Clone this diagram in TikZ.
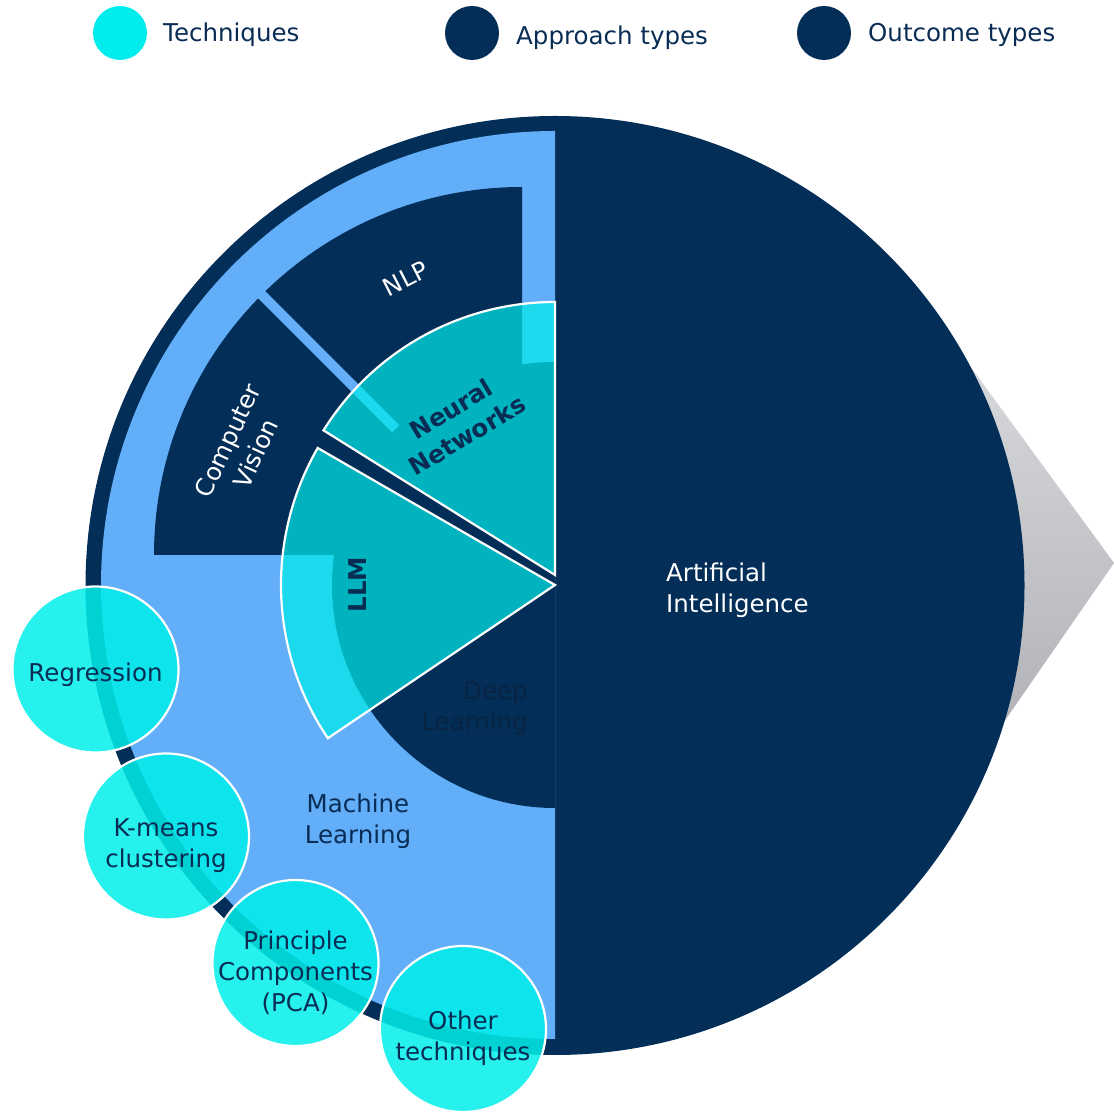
\documentclass[tikz,border=0pt]{standalone}
\usepackage{fontspec}
\setmainfont{DejaVu Sans}
\usetikzlibrary{calc}
\definecolor{navy}{RGB}{3,46,87}
\definecolor{navytext}{RGB}{8,44,84}
\definecolor{deeptext}{RGB}{9,36,66}
\definecolor{lblue}{RGB}{98,174,248}
\definecolor{cyanS}{RGB}{0,236,235}
\definecolor{cyanT}{RGB}{0,238,233}
\definecolor{cyanL}{RGB}{0,237,237}
\definecolor{grayA}{RGB}{218,219,222}
\definecolor{grayB}{RGB}{176,177,183}
\begin{document}
\begin{tikzpicture}[x=1pt,y=1pt,
  txt/.style={font=\fontsize{24.5}{31}\selectfont, inner sep=0pt, align=center},
  btxt/.style={font=\fontsize{24.5}{31}\selectfont\bfseries, inner sep=0pt, align=center, text=navytext},
  sector/.style={fill=cyanS, fill opacity=0.7, draw=white, line width=2.2pt, line join=miter},
  tech/.style={fill=cyanT, fill opacity=0.85, draw=white, line width=2.2pt},
  legdot/.style={circle, minimum size=54pt, inner sep=0pt}
]
\useasboundingbox (0,0) rectangle (1114,1112);
\coordinate (C) at (555,527);
\coordinate (Q) at (522,557);
\coordinate (AN) at (555,537);

% grey pointer behind the main circle
\shade[top color=grayA, bottom color=grayB] (945,780.3) -- (1114,549) -- (985,362.7) -- (850,552) -- cycle;

% outcome: Artificial Intelligence
\fill[navy] (555,526.5) circle[radius=469.5pt];

% approach: Machine Learning half disc
\fill[lblue] (555,981) arc[start angle=90, end angle=270, radius=454pt] -- cycle;

% quarter: NLP / Computer Vision
\fill[navy] (Q) -- ($(Q)+(0,368)$) arc[start angle=90, end angle=180, radius=368pt] -- cycle;
\draw[lblue, line width=10pt] ($(Q)+(135:177)$) -- ($(Q)+(135:372)$);

% Deep Learning half disc
\fill[navy] (555,750) arc[start angle=90, end angle=270, radius=223pt] -- cycle;

\node[txt, text=white, rotate=27] (nlp) at (405.5,833.5) {NLP};
\node[txt, text=white, rotate=65] (cv) at (241.5,665) {Computer\\Vision};
\node[txt, text=deeptext, align=right, anchor=east] (dl) at (528,403) {Deep\\Learning};
\node[txt, text=navytext] (ml) at (358,290.5) {Machine\\Learning};

% technique sectors
\path[sector] (AN) -- ++(90:273) arc[start angle=90, end angle=148, radius=273pt] -- cycle;
\path[sector] (C) -- ++(150:274) arc[start angle=150, end angle=214, radius=274pt] -- cycle;
\node[btxt, rotate=31] (nn) at (459,690) {Neural\\Networks};
\node[btxt, rotate=90] (llm) at (357.5,527.5) {LLM};

\node[txt, text=white, align=left, anchor=west] (ai) at (666,521.5) {Artificial\\Intelligence};

% technique circles
\path[tech] (95.5,442.5) circle[radius=83pt];
\path[tech] (166,275.5) circle[radius=83pt];
\path[tech] (295.5,149) circle[radius=83pt];
\path[tech] (463,83) circle[radius=83pt];
\node[txt, text=navytext] (reg) at (95.5,437) {Regression};
\node[txt, text=navytext] (km) at (166,266.5) {K-means\\clustering};
\node[txt, text=navytext] (pca) at (295.5,139) {Principle\\Components\\(PCA)};
\node[txt, text=navytext] (oth) at (463,74) {Other\\techniques};

% legend
\node[legdot, fill=cyanL] (l1) at (120,1079) {};
\node[legdot, fill=navy] (l2) at (472,1079) {};
\node[legdot, fill=navy] (l3) at (824,1079) {};
\node[txt, text=navytext, anchor=base west] (t1) at (163,1070) {Techniques};
\node[txt, text=navytext, anchor=base west] (t2) at (516,1067) {Approach types};
\node[txt, text=navytext, anchor=base west] (t3) at (868,1070) {Outcome types};
\end{tikzpicture}
\end{document}
